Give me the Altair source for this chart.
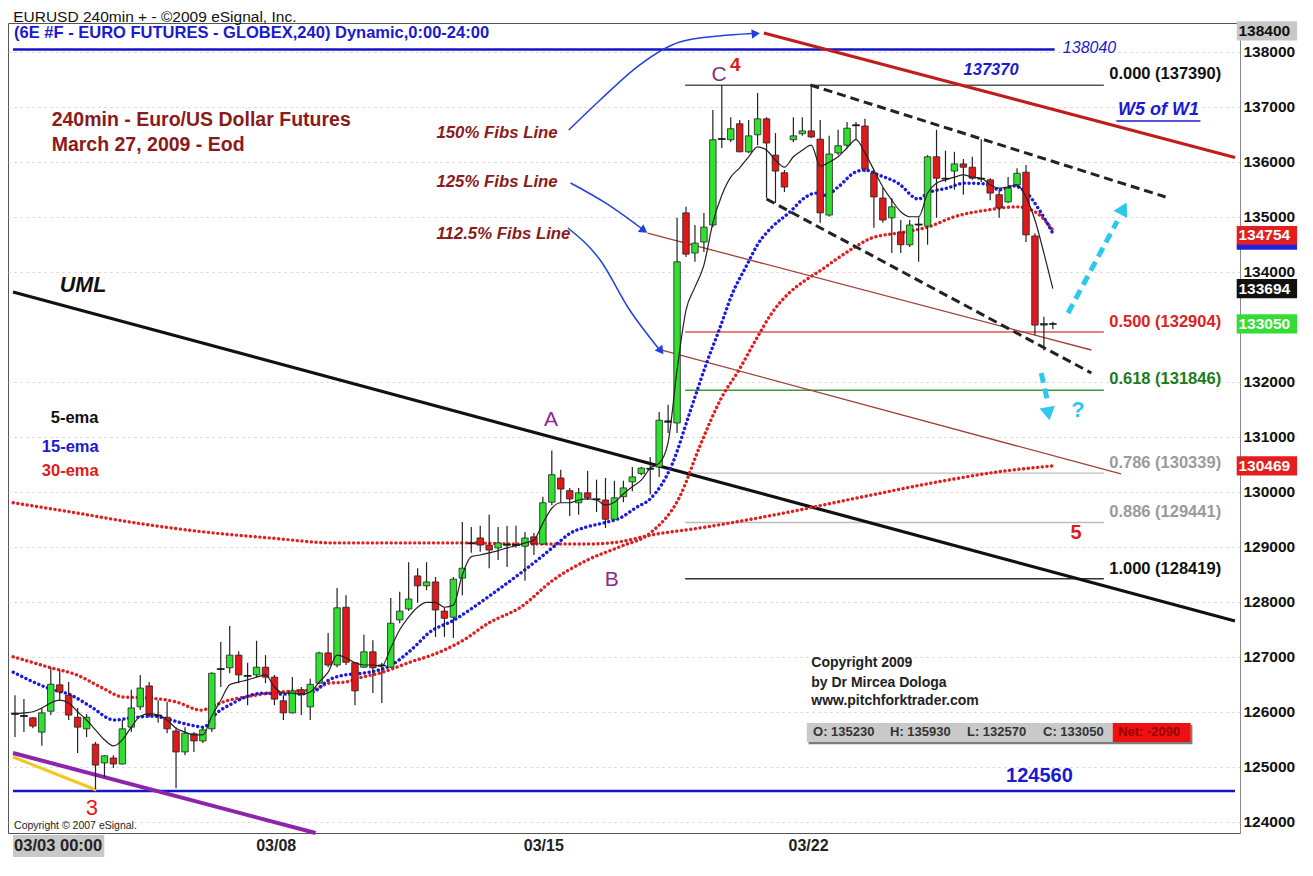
import altair as alt
import pandas as pd

FONT = "Liberation Sans"

# ---------------- candle data (240min bars, index 0 = 03/03 00:00) ----------------
opens = [125950, 125930, 125890, 125630, 126010, 126490, 126300, 125900, 125690, 125410,
         125070, 125160, 125050, 125720, 126090, 126470, 125940, 125900, 125650, 125270,
         125600, 125470, 125690, 126770, 126800, 127030, 126660, 126670, 126810, 126630,
         126200, 125980, 126400, 126090, 126520, 127070, 126850, 127900, 126890, 126810,
         127090, 126850, 126810, 127670, 127870, 128470, 128290, 128360, 127830, 127720,
         128430, 129070, 129160, 129030, 128980, 129030, 129040, 129010, 129180, 129050,
         129810, 130250, 130020, 129800, 129980, 129870, 129850, 129500, 129910, 130180,
         130330, 130410, 130450, 131290, 131250, 135070, 134340, 134540, 134850, 136420,
         136400, 136690, 136180, 136490, 136780, 136120, 135800, 136400, 136510, 136560,
         136410, 135030, 136160, 136300, 136670, 136650, 135790, 135340, 134980, 134720,
         134490, 134850, 134830, 136090, 135700, 135830, 135960, 135900, 135700, 135670,
         135400, 135270, 135580, 135810, 134650, 133030, 133050]
highs = [126300, 126230, 125900, 126070, 126800, 126760, 126540, 126070, 125960, 125450,
         125210, 125210, 125850, 126400, 126670, 126540, 126210, 126180, 125720, 125720,
         125630, 125720, 126720, 127270, 127560, 127100, 126890, 127290, 127030, 126670,
         126300, 126630, 126450, 126600, 127090, 127430, 128250, 128120, 126900, 127400,
         127300, 126890, 128070, 128180, 128720, 128610, 128720, 128450, 127900, 128450,
         129450, 129360, 129380, 129580, 129360, 129380, 129380, 129270, 129250, 129910,
         130750, 130400, 130070, 130070, 130380, 130220, 130250, 130200, 130200, 130450,
         130450, 130630, 131450, 131580, 134980, 135180, 134850, 135070, 136940, 137390,
         136810, 136760, 136760, 137250, 136810, 136520, 135850, 136810, 136810, 137370,
         136760, 136470, 136580, 136720, 136720, 136780, 135850, 135520, 135340, 134940,
         134940, 134990, 136120, 136580, 136200, 136180, 136050, 136090, 136410, 135700,
         135490, 135720, 135880, 135940, 134700, 133180, 133090]
lows = [125540, 125630, 125700, 125380, 125940, 126210, 125850, 125250, 125540, 124590,
        124810, 124980, 125040, 125630, 126030, 125900, 125800, 125610, 124610, 125210,
        125270, 125430, 125630, 126450, 126700, 126520, 126120, 126630, 126520, 126120,
        125850, 125970, 125940, 125850, 126500, 126810, 126810, 126850, 126120, 126800,
        126340, 126160, 126800, 127610, 127830, 127980, 128210, 127360, 127360, 127340,
        128120, 128890, 128910, 128610, 128760, 128630, 128980, 128380, 128850, 129030,
        129760, 129800, 129560, 129580, 129850, 129630, 129340, 129490, 129810, 130010,
        130300, 129950, 130270, 131070, 131070, 134270, 134180, 134360, 134810, 136250,
        136360, 136170, 136160, 136300, 135340, 135250, 135450, 136360, 136470, 136430,
        134890, 135000, 136120, 136250, 136400, 135810, 134800, 134890, 134340, 134340,
        134450, 134180, 134490, 134980, 135630, 135490, 135400, 135670, 135630, 135300,
        134980, 135250, 135540, 134540, 132850, 132570, 132960]
closes = [125970, 125920, 125740, 125980, 126500, 126360, 125940, 125720, 125900, 125030,
          125200, 125050, 125690, 126070, 126430, 125940, 125930, 125690, 125270, 125610,
          125470, 125670, 126700, 126780, 127030, 126670, 126650, 126810, 126630, 126230,
          125980, 126380, 126320, 126500, 127070, 126850, 127890, 126900, 126380, 127090,
          126800, 126840, 127610, 127830, 128050, 128290, 128360, 127850, 127700, 128410,
          128610, 129060, 129030, 128940, 129070, 129040, 129030, 129160, 129050, 129800,
          130310, 130050, 129870, 129980, 129890, 129860, 129500, 129890, 130070, 130270,
          130430, 130420, 131300, 131270, 134180, 134320, 134520, 134810, 136400, 136410,
          136600, 136180, 136470, 136780, 136340, 135830, 135540, 136470, 136560, 136450,
          135070, 136140, 136290, 136610, 136660, 135870, 135360, 134940, 135180, 134490,
          134850, 134860, 136090, 135700, 135690, 135960, 135900, 135700, 135690, 135430,
          135160, 135520, 135790, 134670, 133030, 133050, 133050]

# ---------------- moving averages ----------------
ema5 = [125960, 125980, 126000, 126070, 126160, 126210, 126160, 126000, 125850, 125670,
        125490, 125380, 125490, 125720, 125920, 125960, 125940, 125850, 125700, 125630,
        125580, 125580, 125920, 126210, 126490, 126540, 126580, 126630, 126670, 126450,
        126340, 126340, 126320, 126360, 126540, 126720, 127030, 126980, 126890, 126850,
        126850, 126830, 127160, 127490, 127720, 127900, 127990, 127990, 127900, 127940,
        128490, 128820, 128850, 128890, 128930, 128980, 129020, 129070, 129120, 129430,
        129700, 129800, 129800, 129850, 129870, 129850, 129760, 129810, 129960, 130090,
        130210, 130430, 130520, 130900, 132210, 133300, 133720, 134120, 134890, 135390,
        135720, 135890, 136090, 136270, 136210, 136030, 135900, 136090, 136210, 136300,
        135920, 135990, 136090, 136250, 136400, 136160, 135850, 135540, 135300, 135090,
        135000, 135000, 135430, 135610, 135670, 135720, 135760, 135720, 135700, 135580,
        135520, 135540, 135580, 135360, 134940, 134340, 133694]

ema15_idx = [-0.2, 3.7, 6.3, 8.5, 11.1, 13.0, 15.5, 17.4, 19.6, 21.1, 22.3, 24.4, 25.8, 27.7,
             29.6, 31.4, 33.3, 35.1, 36.9, 38.8, 40.7, 42.1, 43.6, 45.1, 46.0, 49.1, 52.9,
             56.5, 58.4, 60.2, 62.1, 63.9, 65.7, 67.6, 69.5, 71.0, 73.5, 75.4, 77.3, 78.7,
             80.2, 81.7, 83.1, 84.6, 86.5, 88.4, 89.5, 90.6, 92.0, 93.9, 95.0, 96.5, 98.7,
             101.0, 102.0, 104.2, 106.1, 108.3, 110.1, 111.6, 113.1, 114.5, 116.0]
ema15 = [126720, 126430, 126300, 126090, 125850, 125890, 125920, 125850, 125760, 125720,
         125940, 126160, 126270, 126340, 126320, 126320, 126360, 126580, 126670, 126700,
         126760, 126850, 127030, 127250, 127400, 127670, 128090, 128520, 128760, 129000,
         129250, 129360, 129430, 129520, 129720, 129870, 130520, 131430, 132340, 132940,
         133610, 134090, 134520, 134810, 135070, 135360, 135430, 135390, 135540, 135810,
         135850, 135760, 135610, 135320, 135430, 135520, 135610, 135600, 135490, 135560,
         135430, 135120, 134700]

ema30_idx = [-0.2, 3.8, 6.9, 9.8, 12.0, 15.0, 18.0, 20.8, 22.4, 23.3, 25.8, 29.6, 33.3, 35.1,
             36.9, 38.8, 40.7, 42.5, 44.3, 46.6, 50.2, 52.9, 56.5, 60.2, 64.0, 67.6, 71.0,
             74.3, 76.5, 79.0, 80.9, 82.8, 84.6, 86.5, 88.4, 90.1, 92.0, 93.9, 95.7, 99.4,
             102.0, 105.0, 108.6, 112.0, 114.2, 116.0]
ema30 = [127000, 126810, 126670, 126430, 126270, 126250, 126180, 126030, 126120, 126180,
         126270, 126360, 126400, 126520, 126540, 126630, 126700, 126800, 126910, 127030,
         127310, 127610, 127900, 128400, 128760, 129000, 129250, 129910, 130810, 131720,
         132210, 132760, 133250, 133610, 133850, 134030, 134250, 134450, 134610, 134720,
         134810, 135000, 135120, 135180, 135070, 134754]

slow_idx = [-0.2, 6.3, 13.6, 21.1, 28.5, 35.8, 43.2, 50.7, 56.5, 64.0, 67.6, 71.0, 76.5,
            86.5, 94.2, 104.2, 109.8, 115.9]
slow = [129800, 129630, 129430, 129270, 129160, 129070, 129070, 129070, 129050, 129050,
        129090, 129210, 129340, 129630, 129890, 130210, 130360, 130469]

# x-axis date labels
date_pos = [29.2, 59.1, 88.7]
date_lab = ["03/08", "03/15", "03/22"]

# y-axis tick labels visible in the picture (133000 is hidden under the last-price box)
price_ticks = [124000, 125000, 126000, 127000, 128000, 129000, 130000, 131000, 132000,
               134000, 135000, 136000, 137000, 138000]

# Fibonacci retracement levels
fib_ratio = ["0.000", "0.500", "0.618", "0.786", "0.886", "1.000"]
fib_price = [137390, 132904, 131846, 130339, 129441, 128419]
fib_label_y = [137595, 133086, 132050, 130523, 129632, 128596]
fib_line_col = ["#555555", "#e05555", "#3c9a3c", "#bdbdbd", "#bdbdbd", "#333333"]
fib_text_col = ["#111111", "#dd2222", "#1d7a1d", "#9a9a9a", "#9a9a9a", "#111111"]

# ---------------- scales / axes / helpers ----------------
XS = alt.Scale(domain=[-0.222, 136.36], nice=False, zero=False)
YS = alt.Scale(domain=[123796, 138522], nice=False, zero=False)

# the same axis objects on every layer so that the shared axes merge
XAXIS = alt.Axis(labels=False, ticks=False, domain=False, grid=False, title=None)
YAXIS = alt.Axis(orient="right", values=price_ticks, format="d",
                 ticks=False, grid=True, gridColor="#d0d0d0", gridDash=[2, 4],
                 domainColor="#888888", labelFont=FONT, labelFontSize=15.5,
                 labelFontWeight="bold", labelColor="#111111", labelPadding=3, title=None)


def X(f):
    return alt.X(f, type="quantitative", scale=XS, axis=XAXIS)


def Y(f):
    return alt.Y(f, type="quantitative", scale=YS, axis=YAXIS)


def segs(rows, **mk):
    df = pd.DataFrame(rows, columns=["x", "y", "x2", "y2"])
    return alt.Chart(df).mark_rule(**mk).encode(x=X("x"), y=Y("y"), x2="x2", y2="y2")


def rects(rows):
    df = pd.DataFrame(rows, columns=["x", "x2", "y", "y2", "col"])
    return alt.Chart(df).mark_rect().encode(
        x=X("x"), x2="x2", y=Y("y"), y2="y2", color=alt.Color("col:N", scale=None))


def texts(rows, **mk):
    df = pd.DataFrame(rows, columns=["t", "x", "y", "col", "sz"])
    return alt.Chart(df).mark_text(font=FONT, baseline="middle", **mk).encode(
        x=X("x"), y=Y("y"), text="t:N",
        color=alt.Color("col:N", scale=None), size=alt.Size("sz:Q", scale=None))


def polyline(idx, vals, **mk):
    df = pd.DataFrame({"x": idx, "y": vals, "o": range(len(idx))})
    return alt.Chart(df).mark_line(**mk).encode(x=X("x"), y=Y("y"), order="o:Q")


def heads(rows, **mk):
    df = pd.DataFrame(rows, columns=["x", "y", "a"])
    return alt.Chart(df).mark_point(shape="triangle-up", filled=True, opacity=1, **mk).encode(
        x=X("x"), y=Y("y"), angle=alt.Angle("a:Q", scale=None))


cdf = pd.DataFrame({"i": list(range(len(opens))), "o": opens, "h": highs,
                    "l": lows, "c": closes})
cdf["dir"] = ["up" if c >= o else "down" for o, c in zip(opens, closes)]
doji = cdf[(cdf["c"] - cdf["o"]).abs() <= 30]

layers = []

# info box & x-axis first-label background
layers.append(rects([
    [88.7, 131.6, 125410, 125760, "#7d7d7d"],
    [88.5, 131.4, 125450, 125796, "#c9c9c9"],
    [122.7, 131.4, 125450, 125796, "#ee1111"],
    [-0.222, 9.98, 123360, 123760, "#c8c8c8"],
]))

# Fibonacci horizontal lines
fdf = pd.DataFrame({"x": [74.9] * 6, "x2": [121.7] * 6, "y": fib_price, "col": fib_line_col})
layers.append(alt.Chart(fdf).mark_rule(strokeWidth=1.4).encode(
    x=X("x"), x2="x2", y=Y("y"), color=alt.Color("col:N", scale=None)))

# blue support / resistance lines
layers.append(segs([[-0.222, 138040, 116.2, 138040], [-0.222, 124560, 136.36, 124560]],
                   color="#1414c8", strokeWidth=2.6))

# pitchfork lines
layers.append(segs([[70.7, 134704, 120.3, 132577], [72.3, 132577, 123.6, 130323]],
                   color="#a0403a", strokeWidth=1.3))
layers.append(segs([[-0.222, 133631, 136.36, 127650]], color="#111111", strokeWidth=3.2))
layers.append(segs([[83.7, 138340, 136.36, 136078]], color="#c21c1c", strokeWidth=3.2))
layers.append(segs([[-0.222, 125178, 9.1, 124578]], color="#f2c81e", strokeWidth=3))
layers.append(segs([[-0.222, 125251, 33.6, 123796]], color="#8e24aa", strokeWidth=4))

# moving averages (dotted)
dot = dict(strokeWidth=3.4, strokeDash=[0.1, 4.6], strokeCap="round", interpolate="monotone")
layers.append(polyline(slow_idx, slow, color="#e02020", **dot))
layers.append(polyline(ema30_idx, ema30, color="#e02020", **dot))
layers.append(polyline(ema15_idx, ema15, color="#1a1ae0", **dot))

# candles
layers.append(alt.Chart(cdf).mark_rule(color="#222222", strokeWidth=1.2).encode(
    x=X("i"), y=Y("l"), y2="h"))
layers.append(alt.Chart(cdf).mark_bar(size=6.5, stroke="#222222", strokeWidth=0.8).encode(
    x=X("i"), y=Y("o"), y2="c",
    color=alt.Color("dir:N", scale=alt.Scale(domain=["up", "down"],
                                             range=["#30e030", "#e01a1a"]), legend=None)))
layers.append(alt.Chart(doji).mark_tick(color="#111111", thickness=1.6, size=8,
                                        orient="horizontal").encode(x=X("i"), y=Y("c")))

# 5-ema
layers.append(polyline(list(range(len(ema5))), ema5, color="#222222", strokeWidth=1.2,
                       interpolate="monotone"))

# broadening channel (dashed)
layers.append(segs([[88.9, 137395, 128.6, 135359], [84.0, 135322, 120.3, 132159]],
                   color="#222222", strokeWidth=3, strokeDash=[9, 5]))

# cyan projection arrows
cy = "#2cc8ee"
layers.append(segs([[117.7, 133250, 123.2, 134920], [114.7, 132160, 115.4, 131650]],
                   color=cy, strokeWidth=5, strokeDash=[10, 6]))
layers.append(heads([[123.9, 135150, 28], [115.5, 131420, 170]], color=cy, size=240))

# blue callout arrows from the Fibs labels
bl = "#2040e0"
arr_df = pd.DataFrame({
    "x": [61.9, 65.4, 69.8, 74.3, 78.7, 82.4, 62.1, 66.0, 70.0, 61.8, 65.4, 68.7, 71.9],
    "y": [136577, 137122, 137758, 138176, 138285, 138330, 135613, 135250, 134790,
          134795, 134213, 133304, 132610],
    "g": ["a"] * 6 + ["b"] * 3 + ["c"] * 4,
    "o": list(range(13)),
})
layers.append(alt.Chart(arr_df).mark_line(color=bl, strokeWidth=1.5, interpolate="monotone")
              .encode(x=X("x"), y=Y("y"), detail="g:N", order="o:Q"))
layers.append(heads([[82.8, 138330, 85], [70.3, 134750, 125], [72.2, 132560, 143]],
                    color=bl, size=90))

# underline of W5 of W1
layers.append(segs([[123.1, 136740, 132.5, 136740]], color="#1a1ad0", strokeWidth=1.5))

# ---------------- texts ----------------
dred = "#8b1a1a"
blue = "#1a1ad0"
purple = "#8a2a8a"
fib_rows = [[f"{r} ({p})", 122.3, y, c, 16.5] for r, p, y, c in
            zip(fib_ratio, fib_price, fib_label_y, fib_text_col)]
date_rows = [[t, p, 123560, "#222222", 16] for t, p in zip(date_lab, date_pos)]
layers.append(texts([
    ["240min -  Euro/US Dollar Futures", 4.1, 136758, dred, 19.5],
    ["March 27, 2009 - Eod", 4.1, 136304, dred, 19.5],
    ["5-ema", 4.0, 131341, "#111111", 16.5],
    ["15-ema", 3.0, 130814, blue, 16.5],
    ["30-ema", 3.0, 130377, "#e01b1b", 16.5],
    ["(6E #F - EURO FUTURES - GLOBEX,240) Dynamic,0:00-24:00", -0.1, 138349, blue, 16.5],
    ["Copyright 2009", 89.0, 126887, "#222222", 14],
    ["by Dr Mircea Dologa", 89.0, 126523, "#222222", 14],
    ["www.pitchforktrader.com", 89.0, 126196, "#222222", 14],
    ["O: 135230", 89.2, 125632, "#333333", 13],
    ["H: 135930", 97.8, 125632, "#333333", 13],
    ["L: 132570", 106.4, 125632, "#333333", 13],
    ["C: 133050", 114.9, 125632, "#333333", 13],
    ["Net: -2090", 123.3, 125632, "#990000", 13],
    ["03/03 00:00", -0.1, 123560, "#222222", 16.5],
] + fib_rows, align="left", fontWeight="bold"))
layers.append(texts(date_rows, align="center", fontWeight="bold"))
layers.append(texts([
    ["150% Fibs Line", 47.1, 136522, dred, 16.8],
    ["125% Fibs Line", 47.1, 135631, dred, 16.8],
    ["112.5% Fibs Line", 47.1, 134686, dred, 16.8],
    ["UML", 5.0, 133740, "#111111", 21.5],
], align="left", fontWeight="bold", fontStyle="italic"))
layers.append(texts([
    ["4", 80.5, 137758, "#e01b1b", 19],
    ["5", 118.6, 129250, "#e01b1b", 20],
    ["124560", 114.5, 124832, blue, 20],
    ["?", 118.8, 131486, cy, 22],
], align="center", fontWeight="bold"))
layers.append(texts([
    ["A", 59.9, 131304, purple, 21],
    ["B", 66.7, 128396, purple, 21],
    ["C", 78.7, 137577, purple, 21],
    ["3", 8.6, 124251, "#e01b1b", 22],
], align="center"))
layers.append(texts([
    ["137370", 109.1, 137667, blue, 16.5],
    ["W5 of W1", 127.8, 136940, blue, 18],
], align="center", fontWeight="bold", fontStyle="italic"))
layers.append(texts([["138040", 120.1, 138067, blue, 16]], align="center", fontStyle="italic"))
layers.append(texts([
    ["EURUSD 240min + - \u00a92009 eSignal, Inc.", -0.2, 138640, "#111111", 15.5],
    ["Copyright \u00a9 2007 eSignal.", -0.1, 123923, "#222222", 10.5],
], align="left"))

# ---------------- price markers on the right axis ----------------
layers.append(rects([
    [136.55, 143.3, 138205, 138555, "#c8c8c8"],
    [136.55, 143.3, 134400, 134510, "#2020dd"],
    [136.55, 143.3, 134490, 134830, "#e41e1e"],
    [136.55, 143.3, 133519, 133869, "#111111"],
    [136.55, 143.3, 132875, 133225, "#33dd33"],
    [136.55, 143.3, 130294, 130644, "#e41e1e"],
]))
layers.append(texts([
    ["138400", 136.75, 138380, "#111111", 15.5],
    ["134754", 136.75, 134660, "#ffffff", 15.5],
    ["133694", 136.75, 133694, "#ffffff", 15.5],
    ["133050", 136.75, 133050, "#ffffff", 15.5],
    ["130469", 136.75, 130469, "#ffffff", 15.5],
], align="left", fontWeight="bold"))

chart = alt.layer(*layers).properties(
    width=1232, height=810,
    autosize=alt.AutoSizeParams(type="none"),
    padding={"left": 0, "top": 15, "right": 58, "bottom": 25},
    background="white",
).configure_view(stroke="#555555", strokeWidth=1)

chart.save("out.html", embed_options={"renderer": "svg", "actions": False})
